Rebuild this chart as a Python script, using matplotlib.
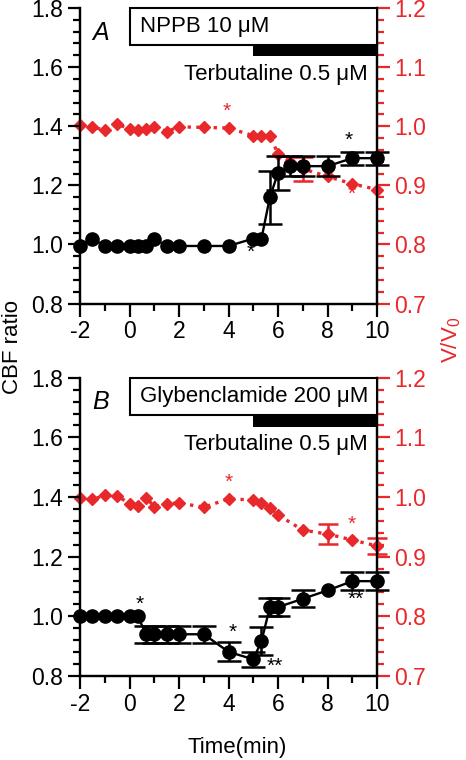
import matplotlib
matplotlib.use("Agg")
import matplotlib.pyplot as plt
from matplotlib.patches import Rectangle
from matplotlib.ticker import MultipleLocator, FormatStrFormatter

plt.rcParams['font.family'] = ['Liberation Sans', 'DejaVu Sans']
plt.rcParams['mathtext.default'] = 'regular'
plt.rcParams['axes.unicode_minus'] = False

RED = '#E8282B'

# ---- Panel A data ----
tA = [-2, -1.5, -1, -0.5, 0, 0.33, 0.67, 1, 1.5, 2, 3, 4, 5, 5.33, 5.67, 6, 6.5, 7, 8, 9, 10]
cbfA = [0.995, 1.02, 0.995, 0.995, 0.995, 0.995, 0.995, 1.02, 0.995, 0.995, 0.995, 0.995,
        1.02, 1.02, 1.16, 1.243, 1.265, 1.265, 1.265, 1.292, 1.292]
cbfA_err = [0, 0, 0, 0, 0, 0, 0, 0, 0, 0, 0, 0, 0, 0, 0.09, 0.058, 0.033, 0.033, 0.033, 0.022, 0.022]
vA = [1.0025, 0.998, 0.994, 1.004, 0.995, 0.994, 0.995, 0.999, 0.991, 0.999, 0.998, 0.997,
      0.984, 0.984, 0.984, 0.953, 0.94, 0.928, 0.915, 0.9025, 0.893]
vA_err = [0, 0, 0, 0, 0, 0, 0, 0, 0, 0, 0, 0, 0, 0, 0, 0, 0, 0.02, 0, 0, 0]
starsA_black = [(4.9, 0.972, '*'), (8.86, 1.352, '*')]
starsA_red = [(3.94, 1.025, '*'), (8.96, 0.884, '*')]

# ---- Panel B data ----
tB = [-2, -1.5, -1, -0.5, 0, 0.33, 0.67, 1, 1.5, 2, 3, 4, 5, 5.33, 5.67, 6, 7, 8, 9, 10]
cbfB = [1.0, 1.0, 1.0, 1.0, 1.0, 1.0, 0.94, 0.94, 0.94, 0.94, 0.94, 0.881, 0.856, 0.917,
        1.031, 1.031, 1.059, 1.087, 1.118, 1.118]
cbfB_err = [0, 0, 0, 0, 0, 0, 0.029, 0.029, 0.029, 0.029, 0.029, 0.032, 0.026, 0.048,
            0.03, 0.03, 0.028, 0.0, 0.03, 0.03]
vB = [0.999, 0.996, 1.003, 1.002, 0.989, 0.985, 0.999, 0.984, 0.989, 0.990, 0.983, 0.997,
      0.995, 0.990, 0.982, 0.970, 0.9445, 0.938, 0.928, 0.918]
vB_err = [0, 0, 0, 0, 0, 0, 0, 0, 0, 0, 0, 0, 0, 0, 0, 0, 0, 0.016, 0, 0.014]
starsB_black = [(0.42, 1.042, '*'), (4.18, 0.948, '*'), (5.86, 0.831, '**'), (9.13, 1.056, '**')]
starsB_red = [(4.02, 1.025, '*'), (8.96, 0.955, '*')]

panels = [
    dict(t=tA, cbf=cbfA, cbf_err=cbfA_err, v=vA, v_err=vA_err, sb=starsA_black, sr=starsA_red,
         letter='A', drug='NPPB 10 μM', rect=[0.1717, 0.6005, 0.6375, 0.389]),
    dict(t=tB, cbf=cbfB, cbf_err=cbfB_err, v=vB, v_err=vB_err, sb=starsB_black, sr=starsB_red,
         letter='B', drug='Glybenclamide 200 μM', rect=[0.1717, 0.1105, 0.6375, 0.3925]),
]

fig = plt.figure(figsize=(4.66, 7.6), dpi=100)
TICK_FS = 16.5
TXT_FS = 16


def draw_series(a, t, y, err, color, ls, lw, marker, ms, capsize):
    a.plot(t, y, color=color, ls=ls, lw=lw, marker=marker, ms=ms, clip_on=False, zorder=3)
    te = [ti for ti, e in zip(t, err) if e > 0]
    ye = [yi for yi, e in zip(y, err) if e > 0]
    ee = [e for e in err if e > 0]
    a.errorbar(te, ye, yerr=ee, fmt='none', ecolor=color, elinewidth=1.8,
               capsize=capsize, capthick=1.8, clip_on=False, zorder=2)


for p in panels:
    ax = fig.add_axes(p['rect'])
    ax2 = ax.twinx()
    ax.set_zorder(ax2.get_zorder() + 1)
    ax.patch.set_visible(False)

    ax.set_xlim(-2, 10)
    ax.set_ylim(0.8, 1.8)
    ax2.set_ylim(0.7, 1.2)

    draw_series(ax2, p['t'], p['v'], p['v_err'], RED, (0, (1, 1.6)), 2.4, 'D', 6.5, 7)
    draw_series(ax, p['t'], p['cbf'], p['cbf_err'], 'black', '-', 1.7, 'o', 9.5, 8.5)

    for x, y, s in p['sb']:
        ax.text(x, y, s, color='black', fontsize=15, ha='center', va='center')
    for x, y, s in p['sr']:
        ax2.text(x, y, s, color=RED, fontsize=15, ha='center', va='center')

    # treatment boxes
    ax.add_patch(Rectangle((0, 1.676), 10, 0.124, facecolor='white', edgecolor='black',
                           lw=1.5, zorder=5, clip_on=False))
    ax.add_patch(Rectangle((5, 1.636), 5, 0.04, facecolor='black', edgecolor='black',
                           lw=0, zorder=5, clip_on=False))
    ax.text(0.42, 1.736, p['drug'], fontsize=TXT_FS, ha='left', va='center', zorder=6)
    ax.text(9.62, 1.575, 'Terbutaline 0.5 μM', fontsize=TXT_FS, ha='right', va='center', zorder=6)
    ax.text(-1.17, 1.717, p['letter'], fontsize=18, style='italic', ha='center', va='center')

    # axes styling
    for a in (ax, ax2):
        a.spines['top'].set_visible(False)
        for s in ('left', 'right', 'bottom'):
            a.spines[s].set_linewidth(1.6)
            a.spines[s].set_color('black')
    ax.xaxis.set_major_locator(MultipleLocator(2))
    ax.xaxis.set_minor_locator(MultipleLocator(1))
    ax.yaxis.set_major_locator(MultipleLocator(0.2))
    ax.yaxis.set_minor_locator(MultipleLocator(0.04))
    ax.yaxis.set_major_formatter(FormatStrFormatter('%.1f'))
    ax2.yaxis.set_major_locator(MultipleLocator(0.1))
    ax2.yaxis.set_minor_locator(MultipleLocator(0.02))
    ax2.yaxis.set_major_formatter(FormatStrFormatter('%.1f'))

    ax.tick_params(axis='both', which='major', direction='out', length=9, width=1.6,
                   labelsize=TICK_FS, pad=3)
    ax.tick_params(axis='both', which='minor', direction='out', length=5, width=1.6)
    ax.tick_params(axis='y', which='both', right=False)
    ax2.tick_params(axis='y', which='major', direction='out', length=9, width=1.6,
                    colors=RED, labelsize=TICK_FS, pad=3)
    ax2.tick_params(axis='y', which='minor', direction='out', length=5, width=1.6, colors=RED)
    ax2.spines['right'].set_color('black')

fig.text(0.026, 0.543, 'CBF ratio', rotation=90, fontsize=16, ha='center', va='center')
fig.text(0.968, 0.553, 'V/V$_0$', rotation=90, fontsize=16, ha='center', va='center', color=RED)
fig.text(0.509, 0.017, 'Time(min)', fontsize=16, ha='center', va='center')

fig.savefig('out.png', dpi=100)
